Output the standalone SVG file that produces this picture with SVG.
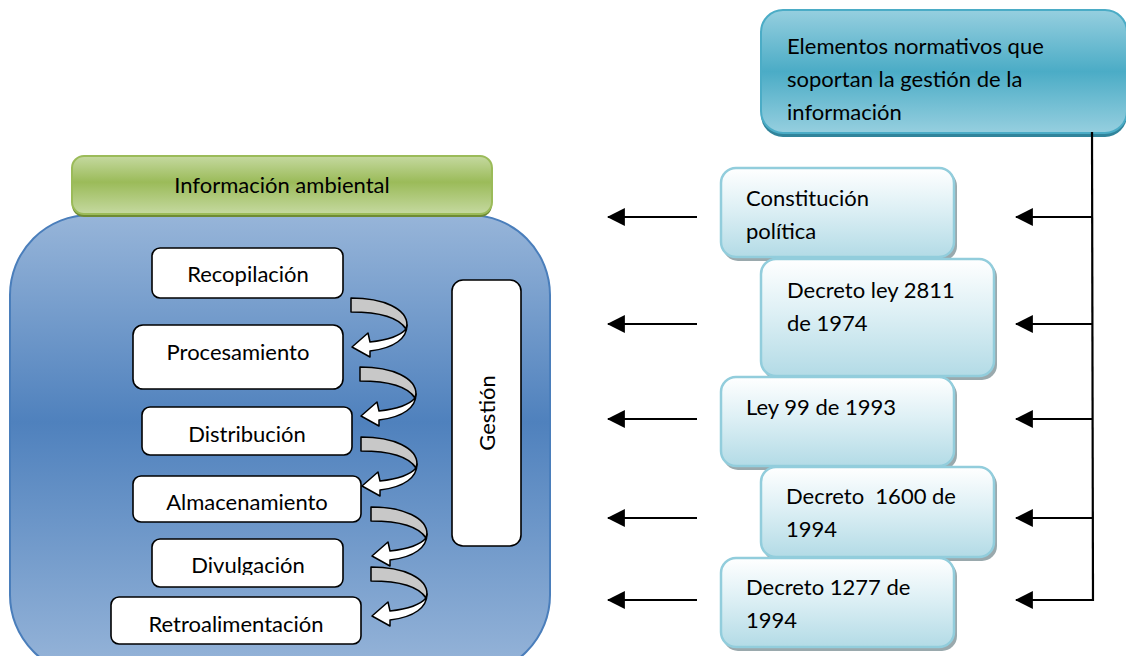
<svg xmlns="http://www.w3.org/2000/svg" width="1126" height="656" viewBox="0 0 1126 656">
<defs>
<style>
text{font-family:Lato,"Open Sans","Liberation Sans",sans-serif;fill:#000;}
.t{font-size:22px;}
.wb{fill:#fff;stroke:#000;stroke-width:1.6;}
.rb{fill:url(#gLight);stroke:#92cddc;stroke-width:2.5;}
.sh{fill:#9aa9ad;}
.conn{stroke:#000;stroke-width:2.2;fill:none;}
.arr{stroke:#000;stroke-width:1.5;stroke-linejoin:round;}
</style>
<linearGradient id="gBlue" x1="0" y1="0" x2="0" y2="1">
<stop offset="0" stop-color="#97b5d9"/>
<stop offset="0.45" stop-color="#4f81bd"/>
<stop offset="1" stop-color="#97b5d9"/>
</linearGradient>
<linearGradient id="gGreen" x1="0" y1="0" x2="0" y2="1">
<stop offset="0" stop-color="#c5d9a0"/>
<stop offset="0.45" stop-color="#9bbb59"/>
<stop offset="1" stop-color="#c5d9a0"/>
</linearGradient>
<linearGradient id="gTeal" x1="0" y1="0" x2="0" y2="1">
<stop offset="0" stop-color="#96cfdf"/>
<stop offset="0.5" stop-color="#4bacc6"/>
<stop offset="1" stop-color="#96cfdf"/>
</linearGradient>
<linearGradient id="gLight" x1="0" y1="0" x2="0" y2="1">
<stop offset="0" stop-color="#ffffff"/>
<stop offset="0.45" stop-color="#def0f5"/>
<stop offset="1" stop-color="#b3dbe6"/>
</linearGradient>
<marker id="ah" markerUnits="userSpaceOnUse" markerWidth="18" markerHeight="18" viewBox="0 0 16 16" refX="15" refY="8" orient="auto">
<path d="M16,8 L0,0 L0,16 Z" fill="#000"/>
</marker>
<g id="curv">
<path class="arr" fill="#c8c8c8" d="M0,0 C33,0 56,11 56,27 L55,31 C48,20 30,14 0,14 Z"/>
<path class="arr" fill="#fff" d="M56,27 C56,40 44,50 19,53 L19,59 L1,49 L17,35 L19,44 C37,42 50,37 55,31 Z"/>
</g>
<clipPath id="clipDiv"><rect x="152" y="540" width="191" height="35"/></clipPath>
</defs>

<g id="contenedor">
<rect x="10" y="215" width="540" height="460" rx="80" fill="url(#gBlue)" stroke="#4a7ebb" stroke-width="2"/>
</g>

<g id="info-ambiental">
<rect x="72" y="159" width="420" height="58" rx="12" fill="#6e8a34"/>
<rect x="72" y="156" width="420" height="58" rx="12" fill="url(#gGreen)" stroke="#9bbb59" stroke-width="2"/>
<text class="t" x="282" y="193" text-anchor="middle">Información ambiental</text>
</g>

<g id="recopilacion">
<rect class="wb" x="152" y="248" width="191" height="50" rx="8"/>
<text class="t" x="248" y="282" text-anchor="middle">Recopilación</text>
</g>
<g id="procesamiento">
<rect class="wb" x="133" y="325" width="210" height="64" rx="10"/>
<text class="t" x="238" y="360" text-anchor="middle">Procesamiento</text>
</g>
<g id="distribucion">
<rect class="wb" x="142" y="407" width="210" height="48" rx="8"/>
<text class="t" x="247" y="442" text-anchor="middle">Distribución</text>
</g>
<g id="almacenamiento">
<rect class="wb" x="133" y="476" width="228" height="46" rx="8"/>
<text class="t" x="247" y="510" text-anchor="middle">Almacenamiento</text>
</g>
<g id="divulgacion">
<rect class="wb" x="152" y="539" width="191" height="48" rx="8"/>
<text class="t" x="248" y="573" text-anchor="middle" clip-path="url(#clipDiv)">Divulgación</text>
</g>
<g id="retroalimentacion">
<rect class="wb" x="111" y="597" width="250" height="47" rx="8"/>
<text class="t" x="236" y="632" text-anchor="middle">Retroalimentación</text>
</g>
<g id="gestion">
<rect class="wb" x="452" y="280" width="69" height="266" rx="11"/>
<text class="t" transform="translate(495,413) rotate(-90)" text-anchor="middle">Gestión</text>
</g>

<g id="elementos">
<rect x="761" y="14" width="366" height="123" rx="22" fill="#31849b"/>
<rect x="761" y="10" width="366" height="123" rx="22" fill="url(#gTeal)" stroke="#4bacc6" stroke-width="2"/>
<text class="t"><tspan x="787" y="54">Elementos normativos que</tspan><tspan x="787" y="87">soportan la gestión de la</tspan><tspan x="787" y="120">información</tspan></text>
</g>

<g id="constitucion">
<rect class="sh" x="723" y="171" width="234" height="90" rx="15"/>
<rect class="rb" x="721" y="168" width="233" height="89" rx="15"/>
<text class="t"><tspan x="746" y="206">Constitución</tspan><tspan x="746" y="239">política</tspan></text>
</g>
<g id="decreto2811">
<rect class="sh" x="763" y="262" width="234" height="118" rx="15"/>
<rect class="rb" x="761" y="259" width="233" height="117" rx="15"/>
<text class="t"><tspan x="787" y="298">Decreto ley 2811</tspan><tspan x="787" y="331">de 1974</tspan></text>
</g>
<g id="ley99">
<rect class="sh" x="723" y="380" width="234" height="90" rx="15"/>
<rect class="rb" x="721" y="377" width="233" height="89" rx="15"/>
<text class="t" x="746" y="415">Ley 99 de 1993</text>
</g>
<g id="decreto1600">
<rect class="sh" x="763" y="470" width="234" height="91" rx="15"/>
<rect class="rb" x="761" y="467" width="233" height="90" rx="15"/>
<text class="t" xml:space="preserve"><tspan x="786" y="504">Decreto  1600 de</tspan><tspan x="786" y="537">1994</tspan></text>
</g>
<g id="decreto1277">
<rect class="sh" x="723" y="561" width="234" height="90" rx="15"/>
<rect class="rb" x="721" y="558" width="233" height="89" rx="15"/>
<text class="t"><tspan x="746" y="595">Decreto 1277 de</tspan><tspan x="746" y="628">1994</tspan></text>
</g>

<g id="connectors">
<use href="#curv" x="351" y="298"/>
<use href="#curv" x="360" y="367"/>
<use href="#curv" x="361" y="437"/>
<use href="#curv" x="371" y="507"/>
<use href="#curv" x="371" y="567"/>
<path class="conn" d="M1092,132 L1093,601"/>
<path class="conn" d="M1093,217 L1016,217" marker-end="url(#ah)"/>
<path class="conn" d="M1093,324 L1016,324" marker-end="url(#ah)"/>
<path class="conn" d="M1093,419 L1016,419" marker-end="url(#ah)"/>
<path class="conn" d="M1093,518 L1016,518" marker-end="url(#ah)"/>
<path class="conn" d="M1093,600 L1016,600" marker-end="url(#ah)"/>
<path class="conn" d="M697,217 L608,217" marker-end="url(#ah)"/>
<path class="conn" d="M697,324 L608,324" marker-end="url(#ah)"/>
<path class="conn" d="M697,419 L608,419" marker-end="url(#ah)"/>
<path class="conn" d="M697,518 L608,518" marker-end="url(#ah)"/>
<path class="conn" d="M697,600 L608,600" marker-end="url(#ah)"/>
</g>
</svg>
